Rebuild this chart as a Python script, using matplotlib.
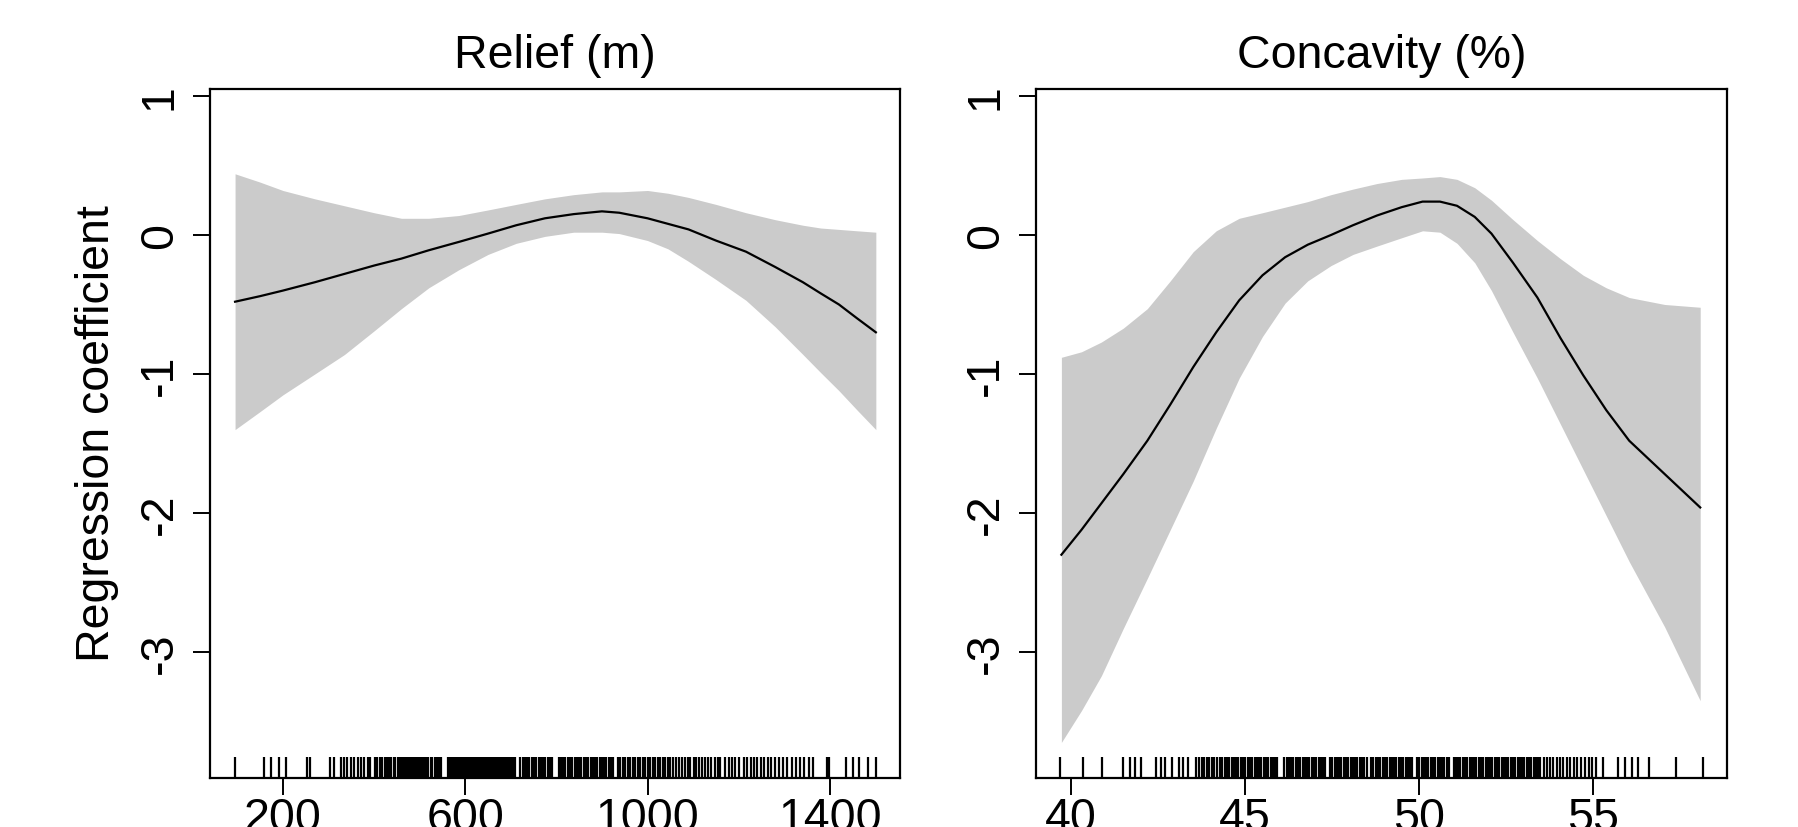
import numpy as np
import matplotlib
matplotlib.use("Agg")
import matplotlib.pyplot as plt

# ---- Relief (m): fitted smooth term and its confidence band ----
relief_x = [95, 150, 200, 270, 335, 400, 460, 520, 586, 650, 712, 775, 838, 900, 938,
            1000, 1045, 1090, 1150, 1216, 1280, 1341, 1380, 1420, 1460, 1501]
relief_fit = [-0.48, -0.44, -0.40, -0.34, -0.28, -0.22, -0.17, -0.11, -0.05, 0.01, 0.07, 0.12, 0.15,
              0.17, 0.16, 0.12, 0.08, 0.04, -0.04, -0.12, -0.23, -0.34, -0.42, -0.50, -0.60, -0.70]
relief_upper = [0.44, 0.38, 0.32, 0.26, 0.21, 0.16, 0.12, 0.12, 0.14, 0.18, 0.22, 0.26, 0.29,
                0.31, 0.31, 0.32, 0.30, 0.27, 0.22, 0.16, 0.11, 0.07, 0.05, 0.04, 0.03, 0.02]
relief_lower = [-1.40, -1.27, -1.15, -1.00, -0.86, -0.69, -0.53, -0.38, -0.25, -0.14, -0.06, -0.01, 0.02,
                0.02, 0.01, -0.04, -0.10, -0.19, -0.32, -0.47, -0.66, -0.86, -0.99, -1.12, -1.26, -1.40]

# observed relief values (rug)
relief_obs = [95, 158, 173, 191, 207, 252, 260, 303, 311,
              327, 334, 341, 349, 356, 364, 371, 379, 386, 392,
              402, 407, 412, 418, 423, 428, 433, 438, 443, 447, 452, 456, 461, 465, 470, 474,
              479, 483, 488, 492, 497, 501, 506, 510, 515, 519, 524, 528, 533, 537, 542, 546,
              562, 566, 569, 573, 577, 580, 584, 588, 591, 595, 599, 602, 606, 610, 613, 617,
              621, 624, 628, 632, 635, 639, 643, 646, 650, 654, 657, 661, 665, 668, 672, 676,
              679, 683, 687, 690, 694, 698, 701, 705, 709,
              721, 726, 731, 736, 741, 746, 751, 756, 761, 766, 771, 776, 781, 786, 791,
              805, 810, 815, 820, 825, 830, 835, 840, 845, 850, 855, 860, 865, 870, 875, 880,
              885, 890, 895, 900, 905, 910, 915, 920, 924,
              935, 940, 946, 951, 957, 962, 968, 973, 979, 984, 990, 995, 1001, 1006, 1012,
              1017, 1023, 1028, 1034, 1039, 1045, 1050, 1056,
              1063, 1069, 1075, 1082, 1088, 1094, 1101, 1107, 1113, 1120, 1126, 1133, 1140,
              1147, 1154, 1159,
              1170, 1178, 1186, 1193, 1200,
              1211, 1218, 1226, 1233, 1241, 1248, 1256, 1264, 1272, 1280, 1289, 1298, 1307,
              1316, 1326, 1335, 1344, 1354, 1363,
              1394, 1399, 1435, 1450, 1465, 1484, 1501]

# ---- Concavity (%): fitted smooth term and its confidence band ----
conc_x = [39.72, 40.3, 40.87, 41.5, 42.19, 42.85, 43.51, 44.17, 44.83, 45.5, 46.15, 46.8, 47.47,
          48.1, 48.79, 49.5, 50.1, 50.6, 51.09, 51.6, 52.08, 52.7, 53.4, 54.06, 54.72, 55.38,
          56.04, 57.06, 58.08]
conc_fit = [-2.30, -2.12, -1.93, -1.72, -1.48, -1.22, -0.95, -0.70, -0.47, -0.29, -0.16, -0.07, 0.00,
            0.07, 0.14, 0.20, 0.24, 0.24, 0.21, 0.13, 0.01, -0.20, -0.45, -0.74, -1.01, -1.26,
            -1.48, -1.72, -1.96]
conc_upper = [-0.88, -0.84, -0.77, -0.67, -0.53, -0.33, -0.12, 0.03, 0.12, 0.16, 0.20, 0.24, 0.29,
              0.33, 0.37, 0.40, 0.41, 0.42, 0.40, 0.34, 0.25, 0.11, -0.04, -0.17, -0.29, -0.38,
              -0.45, -0.50, -0.52]
conc_lower = [-3.65, -3.42, -3.17, -2.83, -2.47, -2.12, -1.77, -1.39, -1.03, -0.73, -0.49, -0.33, -0.22,
              -0.14, -0.08, -0.02, 0.03, 0.02, -0.06, -0.20, -0.40, -0.70, -1.03, -1.36, -1.69, -2.02,
              -2.35, -2.82, -3.35]

# observed concavity values (rug)
conc_obs = [39.69, 40.33, 40.88, 41.49, 41.68, 41.84, 42.00, 42.45, 42.57, 42.70, 42.90, 43.09, 43.22, 43.35,
            43.60, 43.68, 43.75, 43.82, 43.90, 43.97, 44.05, 44.12, 44.20, 44.27, 44.34,
            44.41, 44.48, 44.55, 44.61, 44.68, 44.74, 44.81, 44.88, 44.94, 45.01, 45.07, 45.14,
            45.20, 45.27, 45.34, 45.40, 45.47, 45.53, 45.60, 45.66, 45.73, 45.80, 45.86, 45.93,
            46.12, 46.19, 46.26, 46.32, 46.39, 46.45, 46.52, 46.58, 46.65, 46.72, 46.78, 46.85,
            46.91, 46.98, 47.04, 47.11, 47.18, 47.24, 47.31, 47.44, 47.50, 47.57, 47.64, 47.70,
            47.77, 47.83, 47.90, 47.96, 48.03, 48.10, 48.16, 48.23, 48.29, 48.36, 48.42, 48.49,
            48.62, 48.69, 48.75, 48.82, 48.88, 48.95, 49.02, 49.08, 49.15, 49.21, 49.28, 49.34,
            49.41, 49.48, 49.54, 49.61, 49.67, 49.74, 49.80, 49.94, 50.00, 50.07, 50.13, 50.20,
            50.26, 50.33, 50.40, 50.46, 50.53, 50.59, 50.66, 50.72, 50.79, 50.86, 50.99, 51.05,
            51.12, 51.18, 51.25, 51.32, 51.38, 51.45, 51.51, 51.58, 51.64, 51.71, 51.78, 51.84,
            51.91, 51.97, 52.04, 52.10, 52.17, 52.24, 52.30, 52.37, 52.43, 52.50, 52.56, 52.63,
            52.70, 52.76, 52.83, 52.89, 52.96, 53.02, 53.09, 53.16, 53.22, 53.29, 53.35, 53.42, 53.48,
            53.58, 53.68, 53.77, 53.86, 53.97, 54.06, 54.15, 54.26, 54.35, 54.44, 54.55, 54.66,
            54.76, 54.87, 54.97, 55.08,
            55.28, 55.72, 55.92, 56.11, 56.30, 56.62, 57.39, 58.16]

y_ticks = [-3, -2, -1, 0, 1]
y_tick_labels = ["-3", "-2", "-1", "0", "1"]
relief_ticks = [200, 600, 1000, 1400]
conc_ticks = [40, 45, 50, 55]

plt.rcParams["font.family"] = ["Liberation Sans", "DejaVu Sans"]
plt.rcParams["font.size"] = 33.5

W, H = 1799, 828
fig = plt.figure(figsize=(W / 100, H / 100), dpi=100)
ax1 = fig.add_axes([210 / W, 49 / H, 690 / W, 689 / H])
ax2 = fig.add_axes([1036 / W, 49 / H, 691 / W, 689 / H])

band_color = "#cbcbcb"


def style_panel(ax, title, xticks, xlim):
    ax.set_xlim(*xlim)
    ax.set_ylim(-3.906, 1.05)
    ax.set_xticks(xticks)
    ax.set_xticklabels([str(t) for t in xticks])
    ax.set_yticks(y_ticks)
    ax.set_yticklabels(y_tick_labels)
    for lab in ax.get_yticklabels():
        lab.set_rotation(90)
        lab.set_va("center")
        lab.set_ha("right")
    ax.tick_params(axis="both", direction="out", length=12.2, width=1.4, color="black")
    ax.tick_params(axis="y", pad=8)
    ax.tick_params(axis="x", pad=0.5)
    for sp in ax.spines.values():
        sp.set_linewidth(1.6)
        sp.set_color("black")
    ax.set_title(title, pad=16, fontsize=33.5)


def draw_rug(ax, values):
    ax.vlines(values, 0, 0.0305, transform=ax.get_xaxis_transform(),
              color="black", lw=1.6)


# Relief panel
ax1.fill_between(relief_x, relief_lower, relief_upper, color=band_color, lw=0)
ax1.plot(relief_x, relief_fit, color="black", lw=1.6)
draw_rug(ax1, relief_obs)
style_panel(ax1, "Relief (m)", relief_ticks, (40, 1554))

# Concavity panel
ax2.fill_between(conc_x, conc_lower, conc_upper, color=band_color, lw=0)
ax2.plot(conc_x, conc_fit, color="black", lw=1.6)
draw_rug(ax2, conc_obs)
style_panel(ax2, "Concavity (%)", conc_ticks, (38.99, 58.85))

fig.text(97 / W, 1 - 434 / H, "Regression coefficient", rotation=90,
         ha="center", va="center", fontsize=33.5)

fig.savefig("out.png", dpi=100)
